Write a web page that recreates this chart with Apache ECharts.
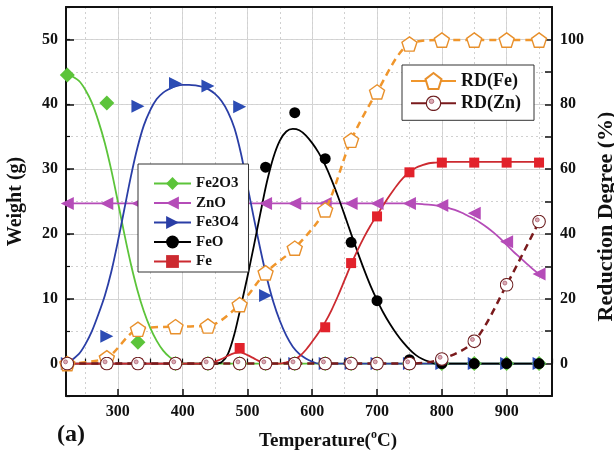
<!DOCTYPE html>
<html>
<head>
<meta charset="utf-8">
<title>Weight and reduction degree vs temperature</title>
<script src="https://cdn.jsdelivr.net/npm/echarts@6/dist/echarts.min.js"></script>
<style>
    html, body { margin: 0; padding: 0; background: #fff; }
    #chart { width: 614px; height: 458px; }
</style>
</head>
<body>
<div id="chart"></div>
<script>
// ---- data --------------------------------------------------------------
// measured temperatures (°C)
var temps = [222, 283, 331, 389, 439, 488, 528, 573, 620, 660, 700, 750, 800, 850, 900, 950];

// weight of each phase (g) -- left axis
var fe2o3 = [44.5, 40.2, 3.3, 0, 0, 0, 0, 0, 0, 0, 0, 0, 0, 0, 0, 0];
var zno   = [24.7, 24.7, 24.7, 24.7, 24.7, 24.7, 24.7, 24.7, 24.7, 24.7, 24.7, 24.7, 24.4, 23.2, 18.8, 13.8];
var fe3o4 = [0, 4.2, 39.7, 43.2, 42.8, 39.6, 10.5, 0, 0, 0, 0, 0, 0, 0, 0, 0];
var feo   = [0, 0, 0, 0, 0, 0, 30.3, 38.7, 31.6, 18.7, 9.7, 0.6, 0, 0, 0, 0];
var fe    = [0, 0, 0, 0, 0, 2.4, 0, 0, 5.6, 15.5, 22.7, 29.5, 31, 31, 31, 31];

// reduction degree (%) -- right axis
var rdFe = [0, 1.8, 10.6, 11.4, 11.6, 18.2, 28, 35.6, 47.4, 68.9, 83.8, 98.6, 99.8, 99.8, 99.8, 99.8];
var rdZn = [0, 0, 0, 0, 0, 0, 0, 0, 0, 0, 0, 0, 1.4, 6.9, 24.3, 43.8];

// fitted curves as drawn in the figure (temperature, weight)
var fe2o3FitT = [222, 240, 250, 260, 270, 280, 290, 300, 310, 320, 330, 340, 350, 360, 370, 380, 390, 400, 950];
var fe2o3FitV = [44.7, 43.6, 42.2, 40.2, 37.4, 34, 29.8, 25, 20, 15.4, 11.4, 8.1, 5.5, 3.5, 2, 1, 0.4, 0, 0];

var znoFitT = [222, 750, 770, 790, 800, 810, 820, 830, 840, 850, 860, 870, 880, 890, 900, 910, 920, 930, 940, 950];
var znoFitV = [24.7, 24.7, 24.6, 24.4, 24.3, 24.0, 23.7, 23.3, 22.8, 22.3, 21.7, 21.0, 20.2, 19.3, 18.3, 17.3, 16.4, 15.5, 14.6, 13.8];

var fe3o4FitT = [222, 240, 250, 260, 270, 280, 290, 300, 310, 320, 330, 340, 350, 360, 370, 380, 390, 400, 410, 420,
                 430, 440, 450, 460, 470, 480, 490, 500, 510, 520, 530, 540, 550, 560, 570, 580, 590, 600, 610, 950];
var fe3o4FitV = [0, 1.5, 3, 5, 7.6, 10.5, 14.2, 18.8, 23.8, 28.8, 33.2, 36.7, 39.1, 40.8, 41.8, 42.4, 42.8, 43, 43, 42.9,
                 42.7, 42.3, 41.6, 40.5, 38.8, 36.3, 32.4, 27.4, 22.4, 17.6, 13.2, 9.5, 6.6, 4.3, 2.6, 1.5, 0.8, 0.3, 0, 0];

var feoFitT = [222, 450, 460, 470, 480, 490, 500, 510, 520, 530, 540, 550, 560, 570, 580, 590, 600, 610, 620, 630,
               640, 650, 660, 670, 680, 690, 700, 710, 720, 730, 740, 750, 760, 770, 780, 790, 950];
var feoFitV = [0, 0, 0.2, 1.5, 4.6, 8.9, 13.4, 18.2, 23.2, 28, 31.8, 34.4, 35.8, 36.2, 36, 35.2, 34, 32.5, 30.6, 28.3,
               25.7, 22.9, 20, 17.2, 14.5, 12, 9.8, 7.8, 6.1, 4.6, 3.3, 2.2, 1.3, 0.7, 0.3, 0, 0];

var feFitT = [222, 440, 450, 460, 470, 480, 490, 500, 510, 520, 530, 550, 560, 570, 580, 590, 600, 610, 620, 630,
              640, 650, 660, 670, 680, 690, 700, 710, 720, 730, 740, 750, 760, 770, 780, 790, 800, 950];
var feFitV = [0, 0, 0.3, 0.7, 1.2, 1.6, 1.7, 1.3, 0.8, 0.3, 0, 0, 0.2, 0.5, 1.1, 2.1, 3.4, 4.8, 6.4, 8.3,
              10.5, 12.9, 15.3, 17.5, 19.5, 21.3, 22.9, 24.5, 26, 27.4, 28.6, 29.5, 30.2, 30.6, 30.9, 31, 31.1, 31.1];

// ---- chart -----------------------------------------------------------------
function pairs(xs, ys) {
    return xs.map(function (x, i) { return [x, ys[i]]; });
}

var serif = '"Liberation Serif", "DejaVu Serif", serif';
var green = "#5cc43a", magenta = "#b54cb8", blue = "#2a3ea6", red = "#e2222b", orange = "#f0962c", darkRed = "#7a1a1c";

// pentagon outline and the ring-with-dot marker of RD(Zn)
var pentagon = "path://M0,-10L9.51,-3.09L5.88,8.09L-5.88,8.09L-9.51,-3.09Z";
var ringSvg = "<svg xmlns='http://www.w3.org/2000/svg' width='28' height='28' viewBox='0 0 28 28'>" +
    "<circle cx='14' cy='14' r='12.6' fill='white' stroke='#6e2022' stroke-width='2.2'/>" +
    "<circle cx='10.5' cy='10.5' r='4' fill='#dcaab4' stroke='#a35868' stroke-width='1.4'/></svg>";
var ring = "image://data:image/svg+xml;charset=utf-8," + encodeURIComponent(ringSvg);

var tickLabel = { fontFamily: serif, fontWeight: "bold", fontSize: 16, color: "#111" };

function fitCurve(name, t, v, color, symbol, rotate) {
    return {
        name: name, type: "line", yAxisIndex: 0,
        data: pairs(t, v),
        smooth: 0.3,
        showSymbol: false, symbol: symbol, symbolRotate: rotate || 0,
        lineStyle: { color: color, width: 1.8 },
        itemStyle: { color: color },
        z: 2
    };
}

function points(name, v, color, symbol, size, rotate) {
    return {
        name: name, type: "scatter", yAxisIndex: 0,
        data: pairs(temps, v),
        symbol: symbol, symbolSize: size, symbolRotate: rotate || 0,
        itemStyle: { color: color, opacity: 1 },
        z: 3
    };
}

var chart = echarts.init(document.getElementById("chart"));

var option = {
    animation: false,
    backgroundColor: "#fff",
    // keep the plot box fixed, the axis titles sit close to the edges
    grid: { left: 66, right: 62, top: 7, bottom: 62, outerBoundsMode: "none" },
    xAxis: [
        {
            type: "value", min: 220, max: 970, splitNumber: 7,
            axisLine: { onZero: false, lineStyle: { color: "#111", width: 2 } },
            axisTick: { inside: true, length: 7, lineStyle: { color: "#111", width: 1.5 } },
            axisLabel: Object.assign({ margin: 8, formatter: function (v) { return v % 100 === 0 ? v : ""; } }, tickLabel),
            splitLine: { lineStyle: { color: "#d6d6d6", width: 1 } },
            name: "Temperature({sup|o}C)", nameLocation: "middle", nameGap: 33,
            nameTextStyle: {
                fontFamily: serif, fontWeight: "bold", fontSize: 19, color: "#111", lineHeight: 25,
                padding: [0, 0, 0, 38],
                rich: { sup: { fontFamily: serif, fontWeight: "bold", fontSize: 12, verticalAlign: "top", color: "#111" } }
            }
        },
        {
            // minor ticks and dotted grid every 50 °C
            type: "value", min: 220, max: 970, splitNumber: 15, position: "bottom",
            axisLine: { show: false },
            axisTick: { inside: true, length: 5, lineStyle: { color: "#111", width: 1.2 } },
            axisLabel: { show: false },
            splitLine: { lineStyle: { color: "#d0d0d0", type: [2, 3] } }
        },
        {
            // top frame
            type: "value", min: 220, max: 970, position: "top",
            axisLine: { onZero: false, lineStyle: { color: "#111", width: 2 } },
            axisTick: { show: false }, axisLabel: { show: false }, splitLine: { show: false }
        }
    ],
    yAxis: [
        {
            type: "value", min: -5, max: 55, splitNumber: 6, position: "left",
            axisLine: { show: true, onZero: false, lineStyle: { color: "#111", width: 2 } },
            axisTick: { inside: true, length: 8, lineStyle: { color: "#111", width: 1.5 } },
            axisLabel: Object.assign({ margin: 8, formatter: function (v) { return v % 10 === 0 ? v : ""; } }, tickLabel),
            splitLine: { lineStyle: { color: "#d6d6d6", width: 1 } },
            name: "Weight (g)", nameLocation: "middle", nameGap: 40,
            nameTextStyle: { fontFamily: serif, fontWeight: "bold", fontSize: 20, color: "#111" }
        },
        {
            type: "value", min: -10, max: 110, interval: 10, position: "right",
            axisLine: { show: true, onZero: false, lineStyle: { color: "#111", width: 2 } },
            axisTick: { inside: true, length: 7, lineStyle: { color: "#111", width: 1.5 } },
            axisLabel: Object.assign({ margin: 8, formatter: function (v) { return (v % 20 === 0 && v >= 0 && v <= 100) ? v : ""; } }, tickLabel),
            splitLine: { lineStyle: { color: "#d0d0d0", type: [2, 3] } },
            name: "Reduction Degree (%)", nameLocation: "middle", nameGap: 43, nameRotate: 90,
            nameTextStyle: { fontFamily: serif, fontWeight: "bold", fontSize: 22, color: "#111", padding: [0, 30, 0, 0] }
        },
        {
            // minor ticks on the left axis
            type: "value", min: -5, max: 55, interval: 5, position: "left",
            axisLine: { show: false },
            axisTick: { inside: true, length: 4, lineStyle: { color: "#111", width: 1.2 } },
            axisLabel: { show: false }, splitLine: { show: false }
        }
    ],
    legend: [
        {
            data: ["Fe2O3", "ZnO", "Fe3O4", "FeO", "Fe"],
            orient: "vertical", left: 138, top: 164,
            padding: [12, 10, 3, 15], itemGap: 4.5, itemWidth: 37, itemHeight: 16,
            backgroundColor: "#fff", borderColor: "#333", borderWidth: 1,
            textStyle: { fontFamily: serif, fontWeight: "bold", fontSize: 15, color: "#111" }
        },
        {
            data: [{ name: "RD(Fe)", lineStyle: { type: "solid" } }, { name: "RD(Zn)", lineStyle: { type: "solid" } }],
            orient: "vertical", left: 402, top: 65,
            padding: [7, 13, 8, 8], itemGap: 4.3, itemWidth: 45, itemHeight: 20,
            backgroundColor: "#fff", borderColor: "#333", borderWidth: 1,
            textStyle: { fontFamily: serif, fontWeight: "bold", fontSize: 18, color: "#111" }
        }
    ],
    graphic: [
        { type: "text", left: 57, top: 423, style: { text: "(a)", font: "bold 24px " + serif, fill: "#111" } }
    ],
    series: [
        fitCurve("Fe2O3", fe2o3FitT, fe2o3FitV, green, "diamond"),
        fitCurve("ZnO", znoFitT, znoFitV, magenta, "triangle", 90),
        fitCurve("Fe3O4", fe3o4FitT, fe3o4FitV, blue, "triangle", -90),
        fitCurve("FeO", feoFitT, feoFitV, "#000", "circle"),
        fitCurve("Fe", feFitT, feFitV, "#cc2a30", "rect"),
        points("Fe2O3 data", fe2o3, green, "diamond", 15),
        points("ZnO data", zno, magenta, "triangle", 13, 90),
        points("Fe3O4 data", fe3o4, "#2c4cb4", "triangle", 13, -90),
        points("FeO data", feo, "#000", "circle", 11),
        points("Fe data", fe, red, "rect", 10),
        {
            name: "RD(Fe)", type: "line", yAxisIndex: 1,
            data: pairs(temps, rdFe),
            smooth: 0.3,
            symbol: pentagon, symbolSize: 15, symbolKeepAspect: true,
            lineStyle: { color: orange, width: 2.5, type: [7, 5] },
            itemStyle: { color: "#fff", borderColor: "#e8902c", borderWidth: 1.4 },
            z: 4
        },
        {
            name: "RD(Zn)", type: "line", yAxisIndex: 1,
            data: pairs(temps, rdZn),
            smooth: 0.3,
            symbol: ring, symbolSize: 14,
            lineStyle: { color: darkRed, width: 2.5, type: [7, 5] },
            itemStyle: { color: darkRed },
            z: 5
        }
    ]
};

chart.setOption(option);
window.addEventListener("resize", function () {
    chart.resize();
});
</script>
</body>
</html>
